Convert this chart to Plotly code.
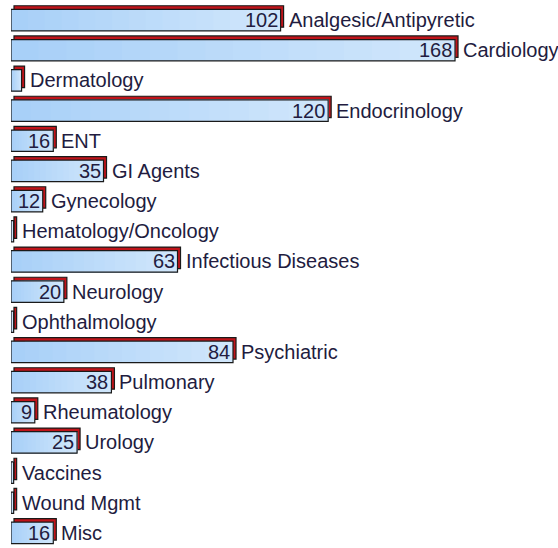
import plotly.graph_objects as go

categories = ["Analgesic/Antipyretic", "Cardiology", "Dermatology", "Endocrinology", "ENT",
              "GI Agents", "Gynecology", "Hematology/Oncology", "Infectious Diseases", "Neurology",
              "Ophthalmology", "Psychiatric", "Pulmonary", "Rheumatology", "Urology",
              "Vaccines", "Wound Mgmt", "Misc"]
values = [102, 168, 4, 120, 16, 35, 12, 1, 63, 20, 1, 84, 38, 9, 25, 1, 1, 16]

PX_PER_UNIT = 2.643
ROW_PX = 543 / 18
DX = 3 / PX_PER_UNIT       # depth shift to the right (data units)
DY = 3.6 / ROW_PX          # depth shift upward (category units)
W = 0.71
STEPS = 16
C0 = (0xA8, 0xD0, 0xF8)
C1 = (0xD0, 0xE6, 0xFB)

FONT = "Arial, Liberation Sans, sans-serif"
TXT = "#221c40"
FS = 20

fig = go.Figure()

# back (extrusion) bars
fig.add_trace(go.Bar(
    y=categories, x=values, base=[DX] * len(values), orientation="h",
    width=W, offset=-W / 2 - DY,
    marker=dict(color="#c0141a", line=dict(color="#1a1a1a", width=1.2)),
    hoverinfo="skip", showlegend=False,
))
# front bars: horizontal gradient made of stepped overlay segments
for k in range(STEPS):
    t = k / (STEPS - 1)
    col = "rgb(%d,%d,%d)" % tuple(round(a + (b - a) * t) for a, b in zip(C0, C1))
    fig.add_trace(go.Bar(
        y=categories, x=[v * (1 - k / STEPS) for v in values],
        base=[v * k / STEPS for v in values], orientation="h",
        width=W, offset=-W / 2,
        marker=dict(color=col, line=dict(width=0)),
        hoverinfo="skip", showlegend=False,
    ))
# front outline
fig.add_trace(go.Bar(
    y=categories, x=values, orientation="h",
    width=W, offset=-W / 2,
    marker=dict(color="rgba(0,0,0,0)", line=dict(color="#1a1a1a", width=1.2)),
    showlegend=False,
))

annotations = []
for c, v in zip(categories, values):
    annotations.append(dict(x=v, y=c, text=c, xanchor="left", xshift=6, showarrow=False,
                            font=dict(family=FONT, size=FS, color=TXT)))
    if v >= 5:
        annotations.append(dict(x=v, y=c, text=str(v), xanchor="right", xshift=-1, showarrow=False,
                                font=dict(family=FONT, size=FS, color=TXT)))

fig.update_layout(
    width=558, height=548,
    margin=dict(l=11, r=0, t=5, b=0),
    paper_bgcolor="white", plot_bgcolor="white",
    barmode="overlay",
    xaxis=dict(range=[0, 547 / PX_PER_UNIT], visible=False),
    yaxis=dict(range=[17.5, -0.5], visible=False, type="category"),
    annotations=annotations,
)

fig.write_html("out.html", config={"displayModeBar": False},
               post_script="document.body.style.margin='0';")
